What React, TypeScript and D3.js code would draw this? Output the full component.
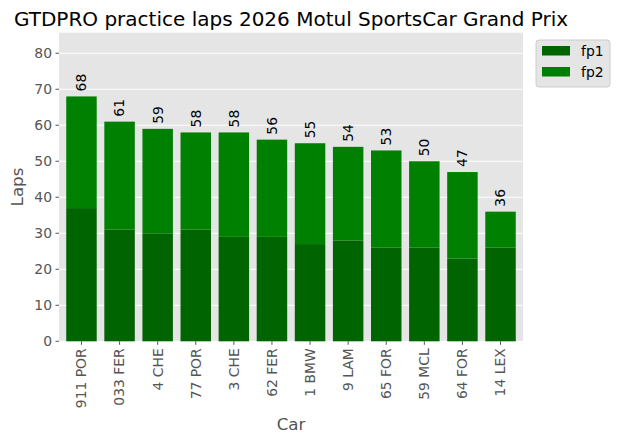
import * as d3 from 'd3'

const cars = ['911 POR', '033 FER', '4 CHE', '77 POR', '3 CHE', '62 FER', '1 BMW', '9 LAM', '65 FOR', '59 MCL', '64 FOR', '14 LEX']
const fp1 = [37, 31, 30, 31, 29, 29, 27, 28, 26, 26, 23, 26]
const fp2 = [31, 30, 29, 27, 29, 27, 28, 26, 27, 24, 24, 10]
const yTicks = [0, 10, 20, 30, 40, 50, 60, 70, 80]
const sessions = ['fp1', 'fp2']
const colors = ['#006400', '#008000']

const width = 619
const height = 441
const marginLeft = 59
const marginRight = 96
const marginTop = 32.7
const marginBottom = 99.7
const font = 'DejaVu Sans, sans-serif'

export default function App() {
  const totals = fp1.map((v, i) => v + fp2[i])
  const x = d3
    .scaleBand<string>()
    .domain(cars)
    .range([marginLeft, width - marginRight])
    .paddingInner(0.2)
    .paddingOuter(0.19)
  const y = d3.scaleLinear([0, 85.7], [height - marginBottom, marginTop])
  const bottom = height - marginBottom
  const cx = (c: string) => (x(c) ?? 0) + x.bandwidth() / 2

  return (
    <div style={{ position: 'absolute', left: 0, top: 0 }}>
      <svg width={width} height={height} style={{ display: 'block', fontFamily: font }}>
        <rect width={width} height={height} fill="white" />
        <rect
          x={marginLeft}
          y={marginTop}
          width={width - marginLeft - marginRight}
          height={bottom - marginTop}
          fill="#e5e5e5"
        />
        {yTicks.map((t) => (
          <g key={t}>
            <line x1={marginLeft} x2={width - marginRight} y1={y(t)} y2={y(t)} stroke="white" strokeWidth={1} />
            <line x1={marginLeft - 3.5} x2={marginLeft} y1={y(t)} y2={y(t)} stroke="#555" strokeWidth={1} />
            <text x={marginLeft - 7} y={y(t)} dy="0.35em" textAnchor="end" fontSize={13.9} fill="#555">
              {t}
            </text>
          </g>
        ))}
        {cars.map((c, i) => (
          <g key={c}>
            <rect x={x(c)} y={y(fp1[i])} width={x.bandwidth()} height={bottom - y(fp1[i])} fill={colors[0]} />
            <rect x={x(c)} y={y(totals[i])} width={x.bandwidth()} height={y(fp1[i]) - y(totals[i])} fill={colors[1]} />
            <text
              transform={`translate(${cx(c)},${y(totals[i]) - 5}) rotate(-90)`}
              dy="0.35em"
              fontSize={13.9}
              fill="black"
            >
              {totals[i]}
            </text>
            <line x1={cx(c)} x2={cx(c)} y1={bottom} y2={bottom + 3.5} stroke="#555" strokeWidth={1} />
            <text
              transform={`translate(${cx(c)},${bottom + 7}) rotate(-90)`}
              dy="0.35em"
              textAnchor="end"
              fontSize={13.9}
              fill="#555"
            >
              {c}
            </text>
          </g>
        ))}
        <text x={(marginLeft + width - marginRight) / 2} y={26} textAnchor="middle" fontSize={20} fill="black">
          GTDPRO practice laps 2026 Motul SportsCar Grand Prix
        </text>
        <text x={(marginLeft + width - marginRight) / 2} y={430} textAnchor="middle" fontSize={16.7} fill="#555">
          Car
        </text>
        <text transform={`translate(23,${(marginTop + bottom) / 2}) rotate(-90)`} textAnchor="middle" fontSize={16.7} fill="#555">
          Laps
        </text>
        <g>
          <rect x={536} y={40} width={74} height={47} rx={3} fill="#e5e5e5" stroke="#cccccc" strokeWidth={1} />
          {sessions.map((s, i) => (
            <g key={s}>
              <rect x={542} y={46 + i * 21} width={28} height={9.5} fill={colors[i]} />
              <text x={581} y={51 + i * 21} dy="0.35em" fontSize={13.9} fill="black">
                {s}
              </text>
            </g>
          ))}
        </g>
      </svg>
    </div>
  )
}
